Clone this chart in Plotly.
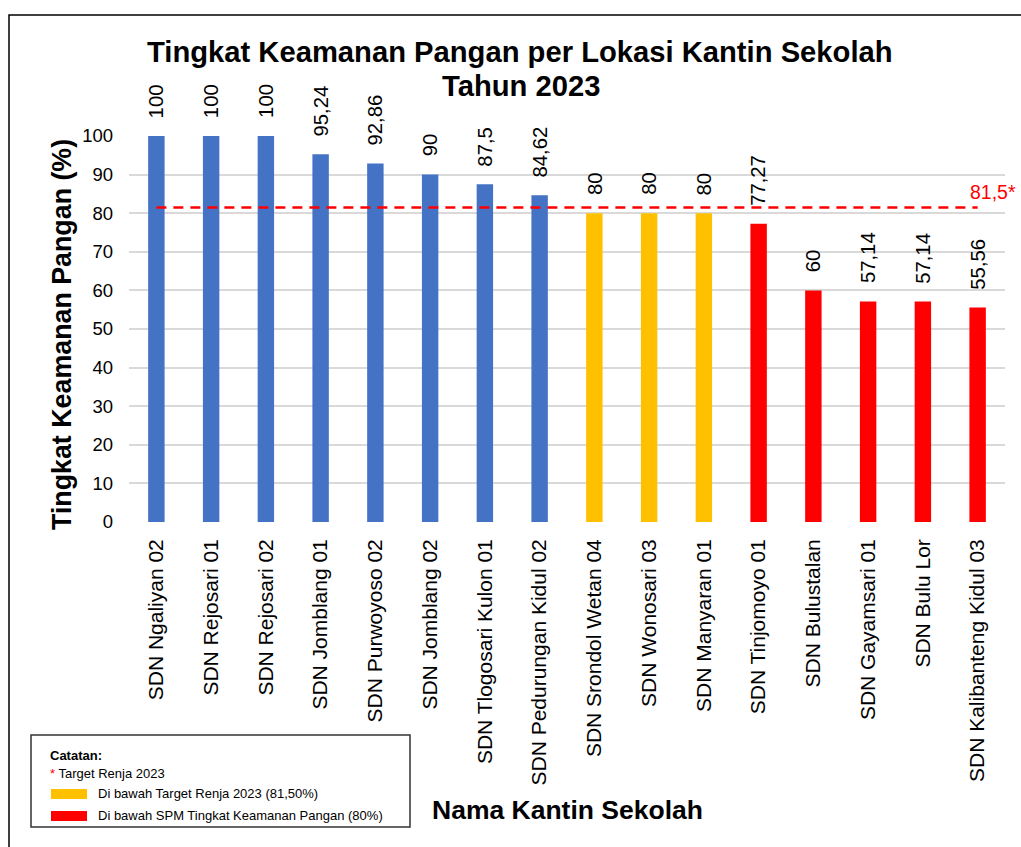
import plotly.graph_objects as go

categories = ["SDN Ngaliyan 02", "SDN Rejosari 01", "SDN Rejosari 02", "SDN Jomblang 01",
              "SDN Purwoyoso 02", "SDN Jomblang 02", "SDN Tlogosari Kulon 01",
              "SDN Pedurungan Kidul 02", "SDN Srondol Wetan 04", "SDN Wonosari 03",
              "SDN Manyaran 01", "SDN Tinjomoyo 01", "SDN Bulustalan", "SDN Gayamsari 01",
              "SDN Bulu Lor", "SDN Kalibanteng Kidul 03"]
values = [100, 100, 100, 95.24, 92.86, 90, 87.5, 84.62, 80, 80, 80, 77.27, 60, 57.14, 57.14, 55.56]
TARGET = 81.5
SPM = 80
y_ticks = [0, 10, 20, 30, 40, 50, 60, 70, 80, 90, 100]

BLUE, YELLOW, RED = "#4472C4", "#FFC000", "#FF0000"

def fmt(v):
    s = ("%.2f" % v).rstrip("0").rstrip(".")
    return s.replace(".", ",")

colors = [BLUE if v >= TARGET else (YELLOW if v >= SPM else RED) for v in values]

W, H = 1021, 847
L, R, T, B = 129, 16, 136, 325
PW, PH = W - L - R, H - T - B
FONT = "Liberation Sans, Arial, sans-serif"

def px_x(px):
    return (px - L) / PW

def px_y(py):
    return (H - B - py) / PH

fig = go.Figure()
fig.add_trace(go.Bar(x=categories, y=values, marker=dict(color=colors, line=dict(width=0)),
                     showlegend=False, hoverinfo="x+y"))
fig.add_trace(go.Scatter(x=categories, y=[TARGET] * len(categories), mode="lines",
                         line=dict(color=RED, width=2.5, dash="10px,7px"),
                         showlegend=False, hoverinfo="skip"))

annotations = []
for c, v in zip(categories, values):
    annotations.append(dict(x=c, y=v, xref="x", yref="y", text=fmt(v), showarrow=False,
                            textangle=-90, yanchor="bottom", xanchor="center", yshift=16,
                            font=dict(family=FONT, size=20.3, color="#000000")))

# target label
annotations.append(dict(x=px_x(1018), y=TARGET, xref="paper", yref="y", text=fmt(TARGET) + "*",
                        showarrow=False, xanchor="right", yanchor="bottom", yshift=2,
                        font=dict(family=FONT, size=19.5, color=RED)))

# title
annotations.append(dict(x=px_x(520), y=px_y(52), xref="paper", yref="paper",
                        text="<b>Tingkat Keamanan Pangan per Lokasi Kantin Sekolah</b>",
                        showarrow=False, xanchor="center", yanchor="middle",
                        font=dict(family=FONT, size=29.2, color="#000000")))
annotations.append(dict(x=px_x(521), y=px_y(86), xref="paper", yref="paper",
                        text="<b>Tahun 2023</b>",
                        showarrow=False, xanchor="center", yanchor="middle",
                        font=dict(family=FONT, size=29.2, color="#000000")))

# axis titles
annotations.append(dict(x=px_x(62), y=px_y(335), xref="paper", yref="paper",
                        text="<b>Tingkat Keamanan Pangan (%)</b>", textangle=-90,
                        showarrow=False, xanchor="center", yanchor="middle",
                        font=dict(family=FONT, size=26.8, color="#000000")))
annotations.append(dict(x=px_x(567), y=px_y(810), xref="paper", yref="paper",
                        text="<b>Nama Kantin Sekolah</b>",
                        showarrow=False, xanchor="center", yanchor="middle",
                        font=dict(family=FONT, size=26.5, color="#000000")))

# notes box
annotations.append(dict(x=px_x(48), y=px_y(755), xref="paper", yref="paper",
                        text="<b>Catatan:</b>", showarrow=False, xanchor="left", yanchor="middle",
                        font=dict(family=FONT, size=13, color="#000000")))
annotations.append(dict(x=px_x(48), y=px_y(773), xref="paper", yref="paper",
                        text="<span style='color:#FF0000'>*</span> Target Renja 2023",
                        showarrow=False, xanchor="left", yanchor="middle",
                        font=dict(family=FONT, size=13, color="#000000")))
annotations.append(dict(x=px_x(96), y=px_y(793), xref="paper", yref="paper",
                        text="Di bawah Target Renja 2023 (81,50%)",
                        showarrow=False, xanchor="left", yanchor="middle",
                        font=dict(family=FONT, size=13, color="#000000")))
annotations.append(dict(x=px_x(96), y=px_y(815), xref="paper", yref="paper",
                        text="Di bawah SPM Tingkat Keamanan Pangan (80%)",
                        showarrow=False, xanchor="left", yanchor="middle",
                        font=dict(family=FONT, size=13, color="#000000")))

shapes = [
    # outer chart border
    dict(type="rect", xref="paper", yref="paper", x0=px_x(9), x1=px_x(1040),
         y0=px_y(870), y1=px_y(15), line=dict(color="#000000", width=1.5), layer="below"),
    # notes box
    dict(type="rect", xref="paper", yref="paper", x0=px_x(31), x1=px_x(410),
         y0=px_y(827), y1=px_y(735), line=dict(color="#333333", width=1.5)),
    dict(type="rect", xref="paper", yref="paper", x0=px_x(51), x1=px_x(87),
         y0=px_y(799), y1=px_y(789), fillcolor=YELLOW, line=dict(width=0)),
    dict(type="rect", xref="paper", yref="paper", x0=px_x(51), x1=px_x(87),
         y0=px_y(821), y1=px_y(811), fillcolor=RED, line=dict(width=0)),
]

fig.update_layout(
    width=W, height=H,
    margin=dict(l=L, r=R, t=T, b=B, autoexpand=False),
    paper_bgcolor="white", plot_bgcolor="white",
    bargap=0.7,
    annotations=annotations,
    shapes=shapes,
    xaxis=dict(type="category", tickangle=-90, showgrid=False, zeroline=False,
               showline=False, ticks="", ticklabelstandoff=12,
               tickfont=dict(family=FONT, size=21, color="#000000")),
    yaxis=dict(range=[0, 100], tickvals=y_ticks, showgrid=True, gridcolor="#D9D9D9",
               gridwidth=1.5, zeroline=False, showline=False, ticks="",
               ticklabelstandoff=15,
               tickfont=dict(family=FONT, size=18.5, color="#000000")),
    font=dict(family=FONT),
)

fig.write_html("out.html", config={"displayModeBar": False},
               post_script="document.body.style.margin='0';document.body.style.overflow='hidden';")
